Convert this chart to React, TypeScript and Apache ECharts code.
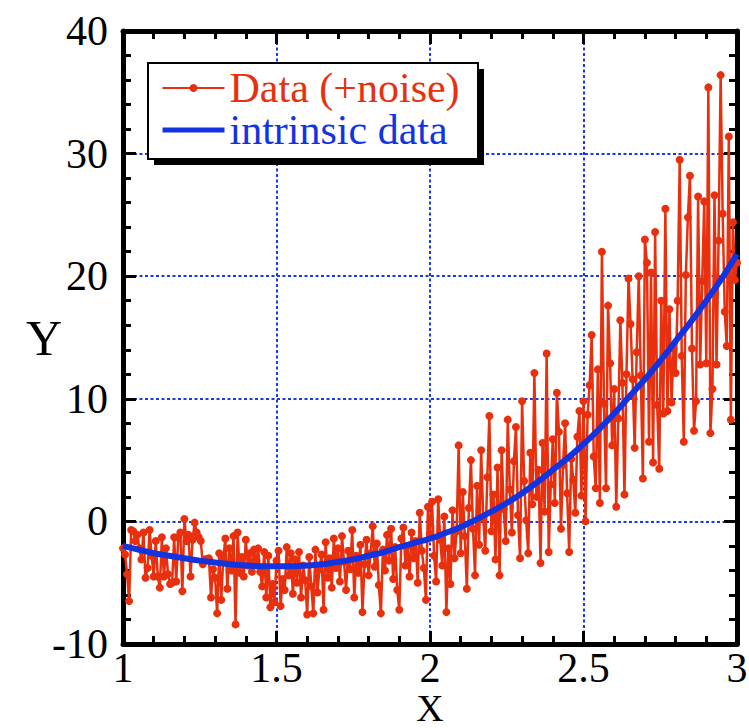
import React, { useEffect, useRef } from "react";
import * as echarts from "echarts";

// ---- data ----
const X_MIN = 1;
const X_MAX = 3;
const Y_MIN = -10;
const Y_MAX = 40;
const xTickLabels = ["1", "1.5", "2", "2.5", "3"];
const yTickLabels = ["-10", "0", "10", "20", "30", "40"];

// noisy data, 301 samples from x = 1 to x = 3
const noisyValues: number[] = [
  // x 1.00 - 1.32
  -2.2, -2.7, -4.3, -6.5, -0.7, -0.8, -1.6, -1.1, -2.2, -3.1,
  -0.9, -4.6, -3.8, -0.7, -2.8, -4.5, -1.6, -4.5, -5.4, -1.3,
  -4.5, -2.2, -4.3, -5.1, -5.0, -1.3, -4.9, -1.3, -0.9, -5.7,
  0.2, -1.6, -1.1, -4.5, -1.5, -0.1, -0.9, -1.3, -1.6, -3.5,
  -3.1, -3.1, -3.0, -6.2, -3.9, -4.6, -7.5, -2.6, -6.4,
  // x 1.33 - 1.67
  -3.0, -1.4, -5.5, -2.2, -4.0, -1.2, -8.4, -0.9, -4.2, -2.9,
  -4.5, -1.5, -3.6, -2.6, -4.1, -2.3, -3.4, -2.2, -4.1, -5.3,
  -2.5, -6.2, -2.8, -7.0, -5.1, -6.6, -3.2, -2.4, -6.9, -4.7,
  -5.6, -2.1, -4.4, -2.6, -5.9, -3.1, -5.0, -2.5, -6.2, -3.6,
  -4.8, -7.6, -2.9, -5.3, -7.5, -2.3, -5.8, -3.9, -2.7, -7.2,
  -1.7, -4.6,
  // x 1.67 - 2.00
  -3.0, -5.4, -1.4, -3.8, -2.2, -4.9, -1.2, -3.3, -5.6, -2.4,
  -3.9, -0.7, -6.2, -2.8, -4.2, -1.9, -7.4, -3.5, -1.5, -4.4,
  -2.6, -0.4, -3.7, -1.8, -5.2, -7.5, -2.3, -4.0, -1.1, -3.2,
  -0.6, -4.7, -2.1, -5.6, -7.2, -1.4, -0.5, -3.6, -2.0, -4.5,
  -0.9, -3.0, -1.6, -5.0, 0.7, -2.4, -3.8, -6.4, 1.2, -1.0,
  // x 2.00 - 2.50
  1.6, -2.8, -4.9, 1.8, -1.5, -3.6, 0.4, -7.4, -2.2, -5.1,
  0.9, -3.0, -0.8, 6.2, -2.6, 2.4, -1.2, -5.5, 1.1, 5.0,
  -0.6, -4.4, 2.9, -1.9, 5.8, 0.3, -2.4, 3.6, 8.6, -0.8,
  2.2, -3.1, 4.4, -4.4, 5.8, 1.0, -1.6, 8.3, 2.6, -0.9,
  4.9, 7.7, 0.5, -3.0, 9.8, 3.3, 0.1, -2.6, 5.6, 1.4,
  12.1, 2.0, 4.2, -3.4, 6.4, 0.8, 13.7, -2.5, 3.0, 6.7,
  1.5, 10.5, 7.3, -0.6, 4.6, 8.0, 2.3, -2.5, 5.1, 3.4,
  0.7, 6.9, 9.0, 2.1, 9.8,
  // x 2.50 - 3.00
  0.0, 8.7, 11.1, 15.2, 5.3, 2.7, 12.4, 1.5, 22.0, 9.6,
  2.7, 17.6, 12.9, 6.2, 10.8, 1.2, 8.4, 16.4, 11.3, 2.2,
  12.0, 19.8, 16.1, 11.6, 6.0, 13.8, 20.0, 11.9, 3.5, 23.0,
  21.1, 6.5, 20.3, 4.8, 23.6, 9.5, 4.3, 18.0, 8.8, 25.5,
  9.0, 17.3, 9.7, 14.1, 12.1, 18.0, 29.5, 13.5, 6.5, 20.1,
  24.8, 28.2, 14.1, 7.4, 9.8, 26.5, 12.8, 19.6, 26.1, 12.9,
  35.4, 7.2, 10.8, 26.6, 12.8, 22.9, 36.4, 25.1, 17.1, 14.3,
  31.4, 8.3, 24.4, 19.7, 21.1,
];

// intrinsic curve, 41 samples from x = 1 to x = 3 (step 0.05)
const intrinsicValues: number[] = [
  -2.0, -2.3, -2.6, -2.8, -3.0, -3.2, -3.35, -3.5, -3.6, -3.65,
  -3.65, -3.65, -3.6, -3.5, -3.3, -3.1, -2.8, -2.5, -2.1, -1.75,
  -1.4, -0.95, -0.45, 0.15, 0.8, 1.5, 2.3, 3.2, 4.2, 5.2,
  6.3, 7.5, 8.8, 10.2, 11.6, 13.1, 14.7, 16.3, 18.0, 19.8, 21.8,
];

const seriesNames = ["Data (+noise)", "intrinsic data"];

const RED = "#e8300e";
const BLUE = "#1234e0";
const GRID_BLUE = "#1a3ae6";
const FONT = "'Liberation Serif', 'Times New Roman', Times, serif";

function toPairs(values: number[]): [number, number][] {
  const n = values.length - 1;
  return values.map((v, i) => [X_MIN + ((X_MAX - X_MIN) * i) / n, v]);
}

export default function App() {
  const ref = useRef<HTMLDivElement>(null);

  useEffect(() => {
    if (!ref.current) return;
    const chart = echarts.init(ref.current, undefined, { renderer: "svg" });

    const axisLine = { show: true, onZero: false, lineStyle: { color: "#000", width: 5 } };
    const axisTick = { show: true, inside: true, length: 13, lineStyle: { color: "#000", width: 3 } };
    const minorTick = { show: true, splitNumber: 5, length: 8, lineStyle: { color: "#000", width: 3 } };
    const splitLine = {
      show: true,
      lineStyle: { color: GRID_BLUE, width: 2, type: [3, 2.5] },
    };

    const option: any = {
      animation: false,
      backgroundColor: "#ffffff",
      grid: {
        left: 123,
        top: 31,
        right: 12,
        bottom: 84,
        containLabel: false,
        outerBoundsMode: "none",
      },
      xAxis: [
        {
          type: "value",
          min: X_MIN,
          max: X_MAX,
          interval: 0.5,
          position: "bottom",
          name: "X",
          nameLocation: "middle",
          nameGap: 45,
          nameMoveOverlap: false,
          nameTextStyle: { fontFamily: FONT, fontSize: 38, lineHeight: 38, color: "#000" },
          axisLine,
          axisTick,
          minorTick,
          splitLine,
          axisLabel: {
            fontFamily: FONT,
            fontSize: 42,
            lineHeight: 40,
            color: "#000",
            margin: 4,
            formatter: (v: number) => {
              const idx = Math.round((v - X_MIN) / 0.5);
              return xTickLabels[idx] ?? String(v);
            },
          },
        },
        {
          type: "value",
          min: X_MIN,
          max: X_MAX,
          interval: 0.5,
          position: "top",
          axisLine,
          axisTick,
          minorTick,
          splitLine: { show: false },
          axisLabel: { show: false },
        },
      ],
      yAxis: [
        {
          type: "value",
          min: Y_MIN,
          max: Y_MAX,
          interval: 10,
          position: "left",
          name: "Y",
          nameLocation: "middle",
          nameGap: 61,
          nameRotate: 0,
          nameMoveOverlap: false,
          nameTextStyle: { fontFamily: FONT, fontSize: 50, color: "#000" },
          axisLine,
          axisTick,
          minorTick,
          splitLine,
          axisLabel: {
            fontFamily: FONT,
            fontSize: 42,
            color: "#000",
            margin: 15,
            formatter: (v: number) => {
              const idx = Math.round((v - Y_MIN) / 10);
              return yTickLabels[idx] ?? String(v);
            },
          },
        },
        {
          type: "value",
          min: Y_MIN,
          max: Y_MAX,
          interval: 10,
          position: "right",
          axisLine,
          axisTick,
          minorTick,
          splitLine: { show: false },
          axisLabel: { show: false },
        },
      ],
      legend: {
        orient: "vertical",
        left: 155,
        top: 62,
        itemWidth: 62,
        itemHeight: 10,
        itemGap: 0,
        z: 20,
        textStyle: { fontFamily: FONT, fontSize: 42, lineHeight: 39 },
        data: [
          { name: seriesNames[0], textStyle: { color: RED } },
          {
            name: seriesNames[1],
            textStyle: { color: BLUE },
            itemStyle: { opacity: 0 },
            lineStyle: { width: 5, color: BLUE },
          },
        ],
      },
      graphic: [
        {
          type: "rect",
          z: 15,
          shape: { x: 154, y: 69, width: 330, height: 96 },
          style: { fill: "#000" },
          silent: true,
        },
        {
          type: "rect",
          z: 16,
          shape: { x: 148, y: 63, width: 330, height: 96 },
          style: { fill: "#fff", stroke: "#000", lineWidth: 2 },
          silent: true,
        },
      ],
      series: [
        {
          name: seriesNames[0],
          type: "line",
          data: toPairs(noisyValues),
          symbol: "circle",
          symbolSize: 8,
          showSymbol: true,
          showAllSymbol: true,
          lineStyle: { color: RED, width: 2.5 },
          itemStyle: { color: RED },
          z: 2,
        },
        {
          name: seriesNames[1],
          type: "line",
          data: toPairs(intrinsicValues),
          smooth: true,
          showSymbol: false,
          symbol: "none",
          lineStyle: { color: BLUE, width: 6 },
          itemStyle: { color: BLUE },
          z: 3,
        },
      ],
    };

    chart.setOption(option);
    return () => {
      chart.dispose();
    };
  }, []);

  return (
    <div
      ref={ref}
      style={{ position: "absolute", left: 0, top: 0, width: 749, height: 728, background: "#fff" }}
    />
  );
}
